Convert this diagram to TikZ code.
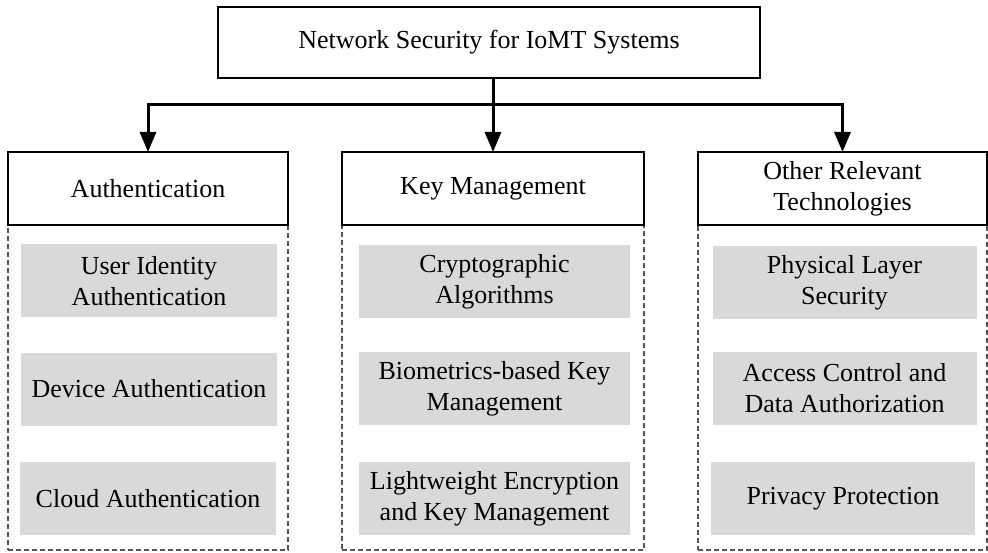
\documentclass[tikz,border=0pt]{standalone}
\usepackage{fontspec}
\setmainfont{Liberation Serif}
\usetikzlibrary{arrows.meta}
\newcommand\diagfont{\fontsize{26}{31}\selectfont}
\definecolor{itemgray}{HTML}{D9D9D9}
\definecolor{dashgray}{HTML}{555555}

\begin{document}
\begin{tikzpicture}[x=1pt,y=-1pt,
  mainbox/.style={draw=black, line width=2.4pt, fill=white, align=center,
    font=\diagfont, inner sep=0pt, outer sep=0pt, minimum height=72pt},
  groupbox/.style={draw=dashgray, line width=1.1pt, dash pattern=on 5pt off 3pt,
    inner sep=0pt, outer sep=0pt, minimum height=325pt},
  itembox/.style={fill=itemgray, align=center, font=\diagfont,
    inner sep=0pt, outer sep=0pt, minimum height=73pt},
  conn/.style={line width=3pt, draw=black},
  connarrow/.style={conn, -{Triangle[length=20pt, width=16pt]}}]

\useasboundingbox (0,0) rectangle (988,553);

% dashed group frames under each category
\node[groupbox, minimum width=280pt] (gauth) at (148,387.5) {};
\node[groupbox, minimum width=302pt] (gkey) at (493,387.5) {};
\node[groupbox, minimum width=289pt] (gother) at (842.5,387.5) {};

% root and category boxes
\node[mainbox, minimum width=542pt, minimum height=71pt] (root) at (489,42.5)
  {Network Security for IoMT Systems};
\node[mainbox, minimum width=280pt, minimum height=73pt] (auth) at (148,188.5)
  {Authentication};
\node[mainbox, minimum width=302pt, minimum height=73pt] (key) at (493,188.5)
  {Key Management};
\node[mainbox, minimum width=289pt, minimum height=73pt] (other) at (842.5,188.5)
  {Other Relevant\\Technologies};

% items of each category
\node[itembox, minimum width=256pt] (a1) at (149,281) {User Identity\\Authentication};
\node[itembox, minimum width=256pt] (a2) at (149,389) {Device Authentication};
\node[itembox, minimum width=256pt] (a3) at (148,498.5) {Cloud Authentication};

\node[itembox, minimum width=271pt] (k1) at (494.5,282) {Cryptographic\\Algorithms};
\node[itembox, minimum width=271pt] (k2) at (494.5,388.5) {Biometrics-based Key\\Management};
\node[itembox, minimum width=271pt] (k3) at (494.5,498.5) {Lightweight Encryption\\and Key Management};

\node[itembox, minimum width=264pt] (o1) at (844.5,282.5) {Physical Layer\\Security};
\node[itembox, minimum width=264pt] (o2) at (844.5,388.5) {Access Control and\\Data Authorization};
\node[itembox, minimum width=264pt] (o3) at (843,498.5) {Privacy Protection};

% tree connectors
\coordinate (hub) at (key.north |- 0,105);
\draw[conn] (root.south -| hub) -- (hub);
\draw[connarrow] (hub) -- (key.north);
\draw[connarrow] (hub) -| (auth.north);
\draw[connarrow] (hub) -| (other.north);
\end{tikzpicture}
\end{document}
